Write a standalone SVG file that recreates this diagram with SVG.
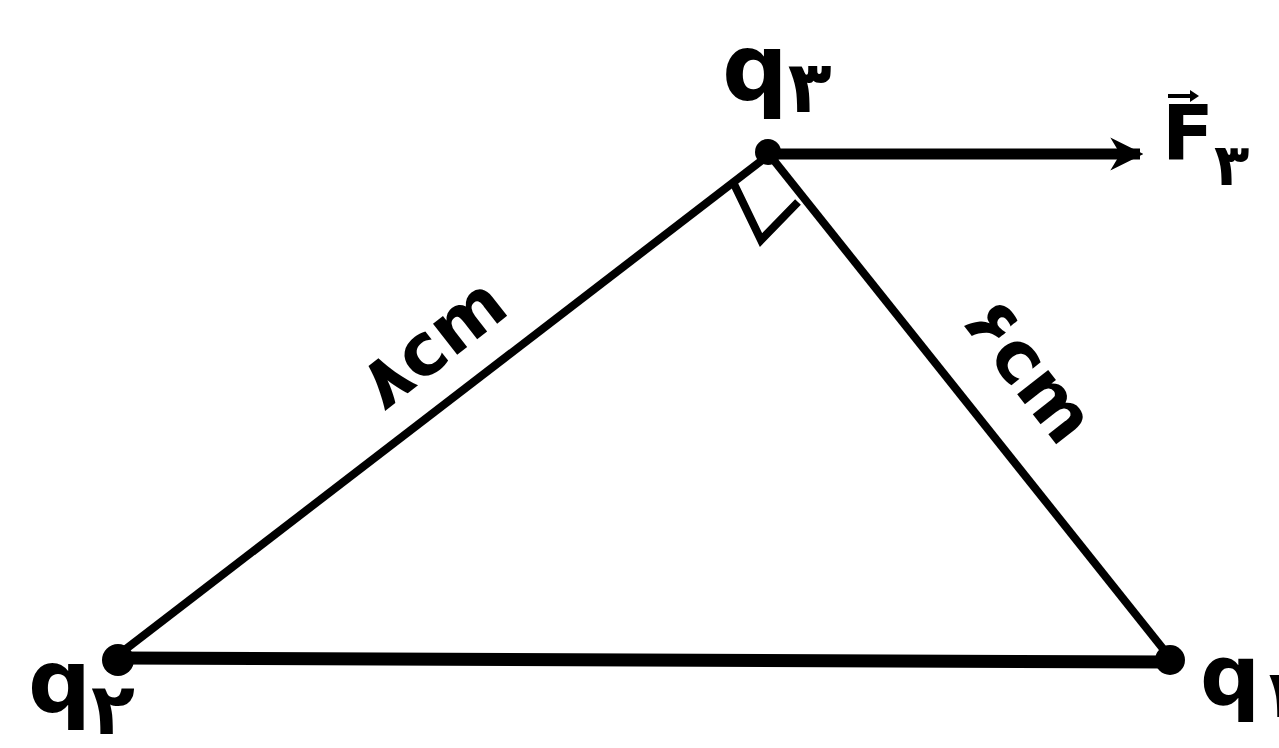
<svg xmlns="http://www.w3.org/2000/svg" width="1279" height="748" viewBox="0 0 1279 748">
<defs>
<style>
.ln{stroke:#000;fill:none;stroke-linecap:butt}
.t{font-family:"DejaVu Sans","Liberation Sans",sans-serif;font-weight:bold;fill:#000}
</style>
<marker id="ah" viewBox="0 0 10 10" refX="9" refY="5" markerWidth="3" markerHeight="3.6" orient="auto" markerUnits="strokeWidth">
<path d="M0,0 L10,5 L0,10 L3,5 Z" fill="#000"/>
</marker>
</defs>
<rect width="1279" height="748" fill="#fff"/>
<g id="connectors">
<line class="ln" x1="120" y1="658" x2="1170" y2="662" stroke-width="13"/>
<line class="ln" x1="122" y1="652" x2="765" y2="158" stroke-width="8"/>
<line class="ln" x1="772" y1="158" x2="1172" y2="660" stroke-width="8"/>
<polyline class="ln" points="734,184 761,240 798,202" stroke-width="8"/>
<line class="ln" x1="770" y1="154" x2="1140" y2="154" stroke-width="11" marker-end="url(#ah)"/>
</g>
<g id="q3">
<circle cx="768" cy="152" r="13" fill="#000"/>
<text class="t" x="722" y="100" font-size="92">q<tspan font-size="72" dy="12">۳</tspan></text>
</g>
<g id="q2">
<circle cx="118" cy="660" r="16" fill="#000"/>
<text class="t" x="28" y="712" font-size="88">q<tspan font-size="72" dy="22">۲</tspan></text>
</g>
<g id="q1">
<circle cx="1170" cy="660" r="15" fill="#000"/>
<text class="t" x="1200" y="705" font-size="84">q<tspan font-size="66" dy="12">۱</tspan></text>
</g>
<g id="F3">
<text class="t" x="1162" y="160" font-size="76">F<tspan font-size="58" dy="25">۳</tspan></text>
<line class="ln" x1="1168" y1="96" x2="1196" y2="96" stroke-width="4"/>
<path d="M1190,90 L1199,96 L1190,102 Z" fill="#000"/>
</g>
<g id="label8">
<text class="t" x="448" y="362" font-size="72" text-anchor="middle" transform="rotate(-38 448 362)">۸cm</text>
</g>
<g id="label6">
<text class="t" x="1010" y="385" font-size="72" text-anchor="middle" transform="rotate(52 1010 385)">۶cm</text>
</g>
</svg>
